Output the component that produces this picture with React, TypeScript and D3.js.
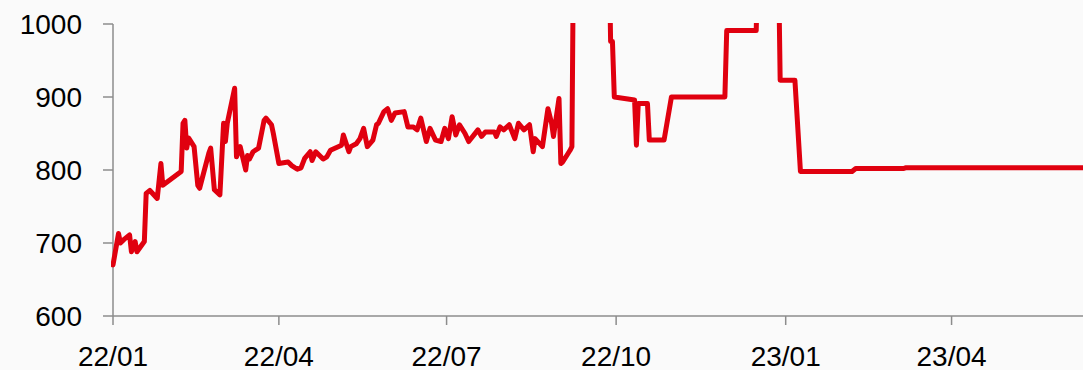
import React from "react";
import * as d3 from "d3";

const dates: string[] = [
  "2022-01-01","2022-01-04","2022-01-05","2022-01-07","2022-01-10","2022-01-11","2022-01-13","2022-01-14",
  "2022-01-18","2022-01-19","2022-01-21","2022-01-25","2022-01-27","2022-01-28","2022-02-07","2022-02-08",
  "2022-02-09","2022-02-10","2022-02-11","2022-02-14","2022-02-16","2022-02-17","2022-02-22","2022-02-23",
  "2022-02-25","2022-02-28","2022-03-02","2022-03-03","2022-03-04","2022-03-08","2022-03-09","2022-03-11",
  "2022-03-14","2022-03-15","2022-03-16","2022-03-18","2022-03-21","2022-03-24","2022-03-25","2022-03-28",
  "2022-03-29","2022-04-01","2022-04-06","2022-04-08","2022-04-11","2022-04-13","2022-04-15","2022-04-18",
  "2022-04-19","2022-04-21","2022-04-25","2022-04-27","2022-04-29","2022-05-05","2022-05-06","2022-05-09",
  "2022-05-10","2022-05-13","2022-05-15","2022-05-17","2022-05-19","2022-05-22","2022-05-24","2022-05-25",
  "2022-05-28","2022-05-30","2022-06-01","2022-06-03","2022-06-08","2022-06-10","2022-06-13","2022-06-15",
  "2022-06-17","2022-06-20","2022-06-22","2022-06-25","2022-06-28","2022-06-30","2022-07-02","2022-07-04",
  "2022-07-06","2022-07-08","2022-07-11","2022-07-13","2022-07-18","2022-07-20","2022-07-22","2022-07-27",
  "2022-07-28","2022-07-30","2022-08-01","2022-08-04","2022-08-07","2022-08-09","2022-08-12","2022-08-15",
  "2022-08-17","2022-08-18","2022-08-22","2022-08-25","2022-08-27","2022-08-28","2022-08-31","2022-09-01",
  "2022-09-02","2022-09-06","2022-09-07","2022-09-08","2022-09-20","2022-09-27","2022-09-28","2022-09-29",
  "2022-09-30","2022-10-11","2022-10-12","2022-10-13","2022-10-18","2022-10-19","2022-10-27","2022-10-31",
  "2022-11-29","2022-11-30","2022-12-16","2022-12-17","2022-12-28","2022-12-29","2023-01-06","2023-01-09",
  "2023-02-06","2023-02-08","2023-03-06","2023-03-07","2023-06-15",
];

const values: number[] = [
  670,713,700,705,711,688,702,688,
  702,768,772,761,809,779,798,864,
  868,830,844,832,779,775,823,830,
  773,766,864,839,864,912,818,832,
  800,820,815,825,830,868,871,862,
  850,809,811,806,801,803,816,825,
  813,825,815,818,827,834,848,825,
  832,836,843,857,832,841,862,864,
  880,884,868,878,880,859,859,855,
  871,839,857,841,839,857,843,873,
  848,862,850,839,855,846,852,852,
  846,859,855,862,843,864,855,862,
  825,843,832,884,864,846,898,809,
  811,827,832,1150,1200,1130,976,976,
  900,896,834,891,891,841,841,900,
  900,991,991,1100,1100,923,923,798,
  798,802,802,803,803,
];

const yTicks: number[] = [600, 700, 800, 900, 1000];
const xTickDates: string[] = ["2022-01-01", "2022-04-01", "2022-07-01", "2022-10-01", "2023-01-01", "2023-04-01"];
const xTickLabels: string[] = ["22/01", "22/04", "22/07", "22/10", "23/01", "23/04"];

const W = 1083;
const H = 370;

export default function App() {
  const parse = d3.utcParse("%Y-%m-%d");
  const data = dates.map((d, i) => ({ date: parse(d) as Date, value: values[i] }));

  const left = 113;
  const top = 24;
  const bottom = 316;

  const x = d3
    .scaleUtc()
    .domain([parse("2022-01-01") as Date, parse("2023-06-12") as Date])
    .range([left, left + 527 * 1.843]);
  const y = d3.scaleLinear().domain([600, 1000]).range([bottom, top]);

  const line = d3
    .line<{ date: Date; value: number }>()
    .x((d) => x(d.date))
    .y((d) => y(d.value));

  const axisColor = "#8c8c8c";
  const font = "'Liberation Sans', Arial, sans-serif";

  return (
    <svg
      width={W}
      height={H}
      style={{ position: "absolute", left: 0, top: 0, display: "block" }}
    >
      <rect x={0} y={0} width={W} height={H} fill="#fafafa" />
      <defs>
        <clipPath id="plotClip">
          <rect x={left - 2} y={top - 1} width={W - left + 10} height={bottom - top + 10} />
        </clipPath>
      </defs>

      {/* y axis */}
      <line x1={left} x2={left} y1={top} y2={bottom} stroke={axisColor} strokeWidth={1.5} />
      {yTicks.map((t) => (
        <g key={t}>
          <line x1={left - 10} x2={left} y1={y(t)} y2={y(t)} stroke={axisColor} strokeWidth={1.5} />
          <text
            x={82}
            y={y(t) + 10}
            textAnchor="end"
            fontFamily={font}
            fontSize={28}
            fill="#000"
          >
            {t}
          </text>
        </g>
      ))}

      {/* x axis */}
      <line x1={left} x2={W} y1={bottom} y2={bottom} stroke={axisColor} strokeWidth={1.5} />
      {xTickDates.map((d, i) => {
        const xx = x(parse(d) as Date);
        return (
          <g key={d}>
            <line x1={xx} x2={xx} y1={bottom} y2={bottom + 9} stroke={axisColor} strokeWidth={1.5} />
            <text
              x={xx}
              y={366}
              textAnchor="middle"
              fontFamily={font}
              fontSize={28}
              fill="#000"
            >
              {xTickLabels[i]}
            </text>
          </g>
        );
      })}

      <path
        d={line(data) || ""}
        fill="none"
        stroke="#e0000f"
        strokeWidth={5}
        strokeLinejoin="round"
        strokeLinecap="round"
        clipPath="url(#plotClip)"
      />
    </svg>
  );
}
